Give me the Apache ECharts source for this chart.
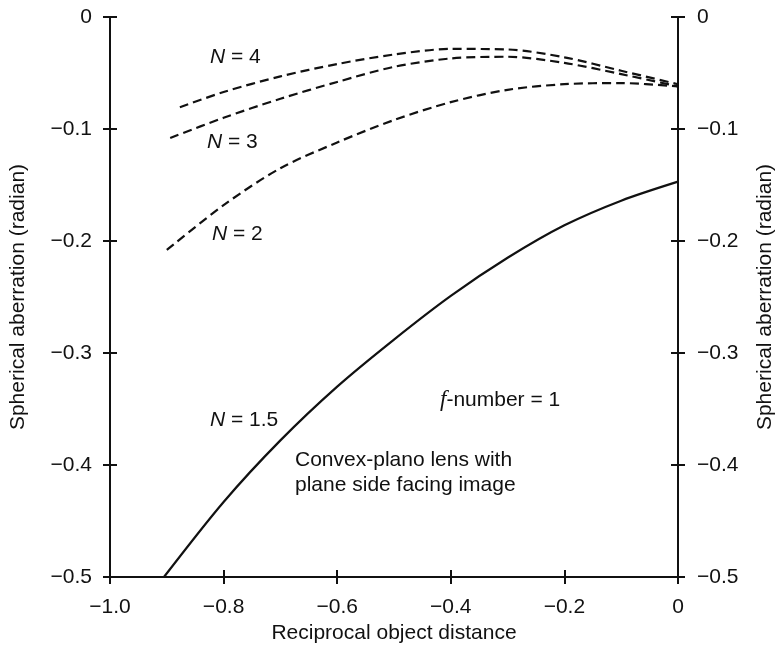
<!DOCTYPE html>
<html>
<head>
<meta charset="utf-8">
<script src="https://cdn.jsdelivr.net/npm/echarts@6/dist/echarts.min.js"></script>
<style>
  html, body { margin: 0; padding: 0; background: #fff; }
  #chart { width: 784px; height: 651px; }
</style>
</head>
<body>
<div id="chart"></div>
<script>
// tick labels
const xTickLabels = ['\u22121.0', '\u22120.8', '\u22120.6', '\u22120.4', '\u22120.2', '0'];
const yTickLabels = ['\u22120.5', '\u22120.4', '\u22120.3', '\u22120.2', '\u22120.1', '0'];

// reciprocal object distance / spherical aberration
const n15X = [-0.905, -0.8, -0.7, -0.6, -0.5, -0.4, -0.3, -0.2, -0.1, 0];
const n15Y = [-0.5, -0.433, -0.378, -0.330, -0.288, -0.249, -0.215, -0.186, -0.164, -0.147];

const n2X = [-0.9, -0.8, -0.7, -0.6, -0.5, -0.4, -0.3, -0.2, -0.1, 0];
const n2Y = [-0.208, -0.168, -0.135, -0.112, -0.092, -0.076, -0.065, -0.060, -0.059, -0.062];

const n3X = [-0.894, -0.8, -0.7, -0.6, -0.5, -0.4, -0.3, -0.2, -0.1, 0];
const n3Y = [-0.108, -0.090, -0.073, -0.058, -0.0445, -0.037, -0.0355, -0.041, -0.051, -0.062];

const n4X = [-0.877, -0.8, -0.7, -0.6, -0.5, -0.4, -0.3, -0.2, -0.1, 0];
const n4Y = [-0.0806, -0.067, -0.053, -0.042, -0.0335, -0.0285, -0.029, -0.036, -0.048, -0.060];

const FONT = 'Liberation Sans';
const INK = '#111';

const zip = (xs, ys) => xs.map((x, i) => [x, ys[i]]);

const xFmt = v => xTickLabels[Math.round((v + 1) / 0.2)];
const yFmt = v => yTickLabels[Math.round((v + 0.5) / 0.1)];

// one axis carries line + labels + outward ticks, its twin adds inward ticks
function yAx(pos, main) {
    return {
        type: 'value', position: pos, min: -0.5, max: 0, interval: 0.1,
        axisLine: { show: main, onZero: false, lineStyle: { color: INK, width: 2 } },
        axisTick: { show: true, inside: !main, length: 7, lineStyle: { color: INK, width: 2 } },
        axisLabel: {
            show: main, formatter: yFmt, margin: pos === 'left' ? 18 : 19,
            color: INK, fontSize: 21, fontFamily: FONT
        },
        splitLine: { show: false },
        name: main ? 'Spherical aberration (radian)' : '',
        nameLocation: 'middle', nameRotate: 90,
        nameGap: pos === 'left' ? 81 : 77,
        nameTextStyle: { color: INK, fontSize: 21, fontFamily: FONT }
    };
}

function xAx(main) {
    return {
        type: 'value', position: 'bottom', min: -1, max: 0, interval: 0.2,
        axisLine: { show: main, onZero: false, lineStyle: { color: INK, width: 2 } },
        axisTick: { show: true, inside: !main, length: 7, lineStyle: { color: INK, width: 2 } },
        axisLabel: { show: main, formatter: xFmt, margin: 20, color: INK, fontSize: 21, fontFamily: FONT },
        splitLine: { show: false },
        name: main ? 'Reciprocal object distance' : '',
        nameLocation: 'middle', nameGap: 45,
        nameTextStyle: { color: INK, fontSize: 21, fontFamily: FONT }
    };
}

function curve(name, xs, ys, dashed) {
    return {
        name: name, type: 'line', xAxisIndex: 0, yAxisIndex: 0,
        data: zip(xs, ys), showSymbol: false, smooth: 0.3,
        lineStyle: { color: INK, width: 2.2, type: dashed ? [9, 5] : 'solid' },
        silent: true
    };
}

function label(x, y, text, rich) {
    return {
        type: 'text', x: x, y: y,
        style: {
            text: text, fill: INK, fontSize: 21, fontFamily: FONT,
            align: 'left', verticalAlign: 'middle', rich: rich || {}
        }
    };
}

const italN = { i: { fontStyle: 'italic', fontSize: 21, fontFamily: FONT, fill: INK } };
const italF = { f: { fontStyle: 'italic', fontSize: 23, fontFamily: 'Liberation Serif', fill: INK } };

const myChart = echarts.init(document.getElementById('chart'));
const option = {
    backgroundColor: '#fff',
    animation: false,
    grid: { left: 105, right: 101, top: 17, bottom: 74 },
    xAxis: [xAx(true), xAx(false)],
    yAxis: [yAx('left', true), yAx('left', false), yAx('right', true), yAx('right', false)],
    series: [
        curve('N = 1.5', n15X, n15Y, false),
        curve('N = 2', n2X, n2Y, true),
        curve('N = 3', n3X, n3Y, true),
        curve('N = 4', n4X, n4Y, true)
    ],
    graphic: [
        label(210, 57, '{i|N} = 4', italN),
        label(207, 142, '{i|N} = 3', italN),
        label(212, 234, '{i|N} = 2', italN),
        label(210, 420, '{i|N} = 1.5', italN),
        label(440, 400, '{f|f}-number = 1', italF),
        label(295, 460, 'Convex-plano lens with'),
        label(295, 485, 'plane side facing image')
    ]
};
myChart.setOption(option);
</script>
</body>
</html>
